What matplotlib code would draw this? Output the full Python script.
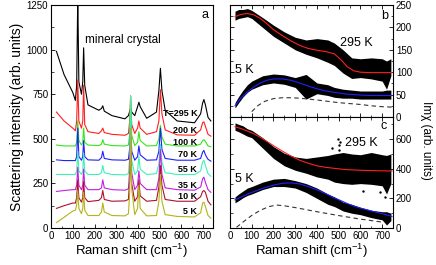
import matplotlib
matplotlib.use("Agg")
import matplotlib.pyplot as plt
from matplotlib.ticker import MultipleLocator

plt.rcParams['font.family'] = ['Liberation Sans', 'DejaVu Sans']
plt.rcParams['mathtext.fontset'] = 'custom'
plt.rcParams['mathtext.rm'] = 'Liberation Sans'

# ---- panel a: Raman spectra, shared shift grid (cm-1) ----
shift = [25, 60, 100, 112, 118, 123, 128, 140, 146, 150, 155, 170, 220, 232, 238, 245,
         280, 340, 356, 362, 366, 371, 385, 398, 404, 410, 440, 485, 496, 503, 510, 525,
         580, 660, 688, 697, 703, 710, 722, 735]

spec_295 = [990, 860, 760, 715, 800, 1300, 820, 750, 820, 1010, 800, 690, 660, 670, 685, 655,
            630, 612, 630, 655, 670, 650, 630, 680, 705, 680, 615, 650, 770, 895, 770, 660,
            600, 590, 640, 700, 720, 690, 620, 600]
spec_200 = [650, 600, 560, 545, 600, 830, 600, 560, 600, 800, 580, 540, 530, 545, 560, 535,
            525, 520, 530, 600, 740, 580, 530, 560, 600, 560, 525, 540, 600, 775, 640, 550,
            522, 520, 550, 590, 595, 570, 525, 515]
spec_100 = [465, 460, 460, 460, 480, 600, 490, 465, 480, 560, 480, 465, 462, 470, 495, 470,
            462, 460, 465, 530, 740, 520, 462, 480, 540, 490, 460, 462, 500, 575, 510, 470,
            460, 460, 470, 490, 495, 485, 460, 455]
spec_70 = [382, 378, 378, 378, 400, 560, 400, 380, 400, 490, 400, 382, 380, 395, 430, 390,
           382, 380, 385, 450, 590, 430, 380, 400, 460, 410, 380, 382, 430, 560, 440, 390,
           380, 380, 390, 425, 435, 410, 385, 375]
spec_55 = [300, 300, 300, 300, 320, 430, 320, 300, 320, 420, 320, 300, 300, 310, 350, 310,
           300, 298, 305, 400, 740, 380, 300, 320, 400, 330, 300, 305, 360, 470, 370, 310,
           300, 300, 320, 370, 380, 350, 305, 290]
spec_35 = [205, 210, 215, 215, 240, 340, 240, 215, 240, 330, 240, 215, 215, 225, 270, 225,
           215, 212, 220, 330, 520, 310, 215, 240, 320, 250, 215, 215, 280, 440, 300, 225,
           215, 212, 230, 275, 285, 255, 215, 200]
spec_10 = [110, 125, 140, 140, 170, 270, 170, 145, 170, 260, 170, 148, 155, 170, 210, 160,
           150, 152, 160, 270, 430, 250, 150, 175, 270, 180, 150, 155, 230, 350, 240, 160,
           150, 150, 175, 205, 210, 200, 150, 130]
spec_5 = [30, 60, 95, 100, 130, 210, 110, 80, 110, 200, 100, 70, 70, 90, 140, 90,
          70, 68, 80, 200, 560, 220, 75, 110, 240, 110, 68, 70, 150, 300, 150, 75,
          65, 62, 85, 140, 145, 120, 70, 55]

spectra = [spec_295, spec_200, spec_100, spec_70, spec_55, spec_35, spec_10, spec_5]
temp_labels = ['T=295 K', '200 K', '100 K', '70 K', '55 K', '35 K', '10 K', '5 K']
label_y = [615, 522, 452, 385, 300, 215, 150, 65]
colors = ['black', '#ff1f1f', '#33e61a', '#1f1fff', '#40f0b8', '#c21fe0', '#b0102c', '#b3b31a']

# ---- panel b ----
b_x = [23, 40, 60, 80, 100, 150, 200, 250, 300, 350, 400, 450, 480, 520, 560, 600, 650, 700, 720, 740]
b295_hi = [236, 240, 240, 242, 238, 222, 205, 190, 178, 172, 175, 172, 165, 150, 132, 130, 132, 130, 125, 130]
b295_lo = [216, 220, 222, 224, 220, 200, 180, 165, 150, 140, 132, 122, 115, 98, 86, 88, 85, 80, 62, 92]
b5_hi = [32, 46, 60, 72, 80, 92, 96, 94, 88, 95, 76, 72, 66, 62, 60, 58, 58, 58, 60, 60]
b5_lo = [20, 32, 45, 55, 62, 72, 76, 73, 66, 40, 52, 48, 44, 42, 42, 40, 40, 40, 40, 40]

fit_x = [23, 50, 80, 110, 140, 170, 200, 240, 280, 320, 360, 400, 440, 480, 510, 540, 570, 600, 650, 700, 745]
fitb_295 = [224, 229, 231, 228, 220, 208, 195, 182, 170, 160, 153, 149, 146, 141, 128, 112, 103, 100, 99, 99, 99]
fitb_5 = [25, 42, 56, 67, 76, 82, 85, 85, 82, 76, 69, 63, 58, 55, 53, 51, 50, 49, 48, 48, 48]
dashb_x = [100, 130, 160, 200, 240, 280, 320, 360, 400, 450, 500, 550, 600, 650, 700, 745]
dashb_5 = [12, 26, 35, 41, 43, 43, 42, 40, 38, 35, 32, 30, 28, 25, 23, 22]

# ---- panel c ----
c_x = [23, 40, 60, 80, 100, 150, 200, 250, 300, 350, 400, 450, 480, 520, 560, 600, 650, 700, 720, 740]
c295_hi = [710, 700, 690, 670, 660, 610, 550, 505, 480, 470, 480, 490, 500, 510, 500, 495, 510, 495, 490, 500]
c295_lo = [660, 650, 635, 620, 610, 540, 470, 420, 390, 370, 345, 330, 310, 300, 295, 300, 295, 285, 230, 300]
c5_hi = [210, 230, 250, 270, 280, 310, 330, 335, 320, 300, 270, 230, 210, 175, 160, 140, 120, 110, 110, 100]
c5_lo = [170, 185, 205, 220, 230, 260, 280, 280, 270, 240, 200, 160, 145, 115, 100, 90, 70, 55, 20, 50]
fitc_295 = [684, 672, 655, 636, 612, 585, 556, 520, 487, 458, 437, 420, 410, 403, 398, 394, 392, 390, 388, 386, 385]
fitc_5 = [190, 208, 228, 246, 262, 277, 290, 302, 305, 298, 280, 258, 232, 204, 185, 165, 148, 134, 115, 97, 78]
dashc_x = [30, 60, 100, 140, 180, 215, 250, 300, 350, 400, 450, 500, 550, 600, 650, 700]
dashc_5 = [5, 40, 85, 120, 145, 155, 150, 138, 124, 110, 97, 84, 72, 60, 50, 40]
# stray points of the 295 K cloud in panel c
c295_out_x = [498, 500, 503, 505, 470, 610, 690, 715]
c295_out_y = [600, 560, 530, 580, 540, 250, 240, 210]

fig = plt.figure(figsize=(4.36, 2.65), dpi=100)
ax_a = fig.add_axes([0.117, 0.1396, 0.3716, 0.8415])
ax_b = fig.add_axes([0.5275, 0.5585, 0.374, 0.4226])
ax_c = fig.add_axes([0.5275, 0.1396, 0.374, 0.4190])

fs = 7
for ax in (ax_a, ax_b, ax_c):
    ax.tick_params(which='both', direction='in', labelsize=fs, top=True, right=True, pad=2)
    ax.tick_params(which='major', length=3, width=0.6)
    ax.tick_params(which='minor', length=1.8, width=0.5)
    for s in ax.spines.values():
        s.set_linewidth(0.8)
    ax.xaxis.set_major_locator(MultipleLocator(100))
    ax.xaxis.set_minor_locator(MultipleLocator(50))

# panel a
for y, c in zip(spectra, colors):
    ax_a.plot(shift, y, color=c, lw=0.8)
for t, ly in zip(temp_labels, label_y):
    ax_a.text(672, ly, t, fontsize=6.5, fontweight='bold', ha='right', va='bottom')
ax_a.text(155, 1055, 'mineral crystal', fontsize=8.5, va='center')
ax_a.text(0.95, 0.955, 'a', transform=ax_a.transAxes, fontsize=9, ha='center', va='center')
ax_a.set_xlim(0, 745)
ax_a.set_ylim(0, 1250)
ax_a.yaxis.set_major_locator(MultipleLocator(250))
ax_a.yaxis.set_minor_locator(MultipleLocator(125))
ax_a.tick_params(right=False, top=False, which='both')
ax_a.set_xlabel('Raman shift (cm$^{-1}$)', fontsize=9.5, labelpad=1)
ax_a.set_ylabel('Scattering intensity (arb. units)', fontsize=10, labelpad=2)

# panel b
ax_b.fill_between(b_x, b295_lo, b295_hi, color='black', lw=0)
ax_b.fill_between(b_x, b5_lo, b5_hi, color='black', lw=0)
ax_b.plot(fit_x, fitb_295, color='#ff2020', lw=0.8)
ax_b.plot(fit_x, fitb_5, color='#2020ff', lw=0.8)
ax_b.plot(dashb_x, dashb_5, color='#333333', lw=0.8, ls=(0, (4, 3)))
ax_b.text(582, 166, '295 K', fontsize=9, ha='center', va='center')
ax_b.text(65, 105, '5 K', fontsize=9, ha='center', va='center')
ax_b.text(0.95, 0.9, 'b', transform=ax_b.transAxes, fontsize=9, ha='center', va='center')
ax_b.set_xlim(0, 750)
ax_b.set_ylim(0, 250)
ax_b.yaxis.set_major_locator(MultipleLocator(50))
ax_b.yaxis.set_minor_locator(MultipleLocator(25))
ax_b.tick_params(labelleft=False, labelright=True, labelbottom=False)

# panel c
ax_c.fill_between(c_x, c295_lo, c295_hi, color='black', lw=0)
ax_c.fill_between(c_x, c5_lo, c5_hi, color='black', lw=0)
ax_c.scatter(c295_out_x, c295_out_y, s=3, color='black', lw=0)
ax_c.plot(fit_x, fitc_295, color='#ff2020', lw=0.8)
ax_c.plot(fit_x, fitc_5, color='#2020ff', lw=0.8)
ax_c.plot(dashc_x, dashc_5, color='#333333', lw=0.8, ls=(0, (4, 3)))
ax_c.text(605, 576, '295 K', fontsize=9, ha='center', va='center')
ax_c.text(65, 330, '5 K', fontsize=9, ha='center', va='center')
ax_c.text(0.94, 0.92, 'c', transform=ax_c.transAxes, fontsize=9, ha='center', va='center')
ax_c.set_xlim(0, 750)
ax_c.set_ylim(0, 750)
ax_c.yaxis.set_major_locator(MultipleLocator(200))
ax_c.yaxis.set_minor_locator(MultipleLocator(100))
ax_c.tick_params(labelleft=False, labelright=True)
ax_c.set_xlabel('Raman shift (cm$^{-1}$)', fontsize=9.5, labelpad=1)

fig.text(0.977, 0.47, 'Im\u03c7 (arb. units)', rotation=270, fontsize=8.5, ha='center', va='center')

fig.savefig('out.png', dpi=100)
